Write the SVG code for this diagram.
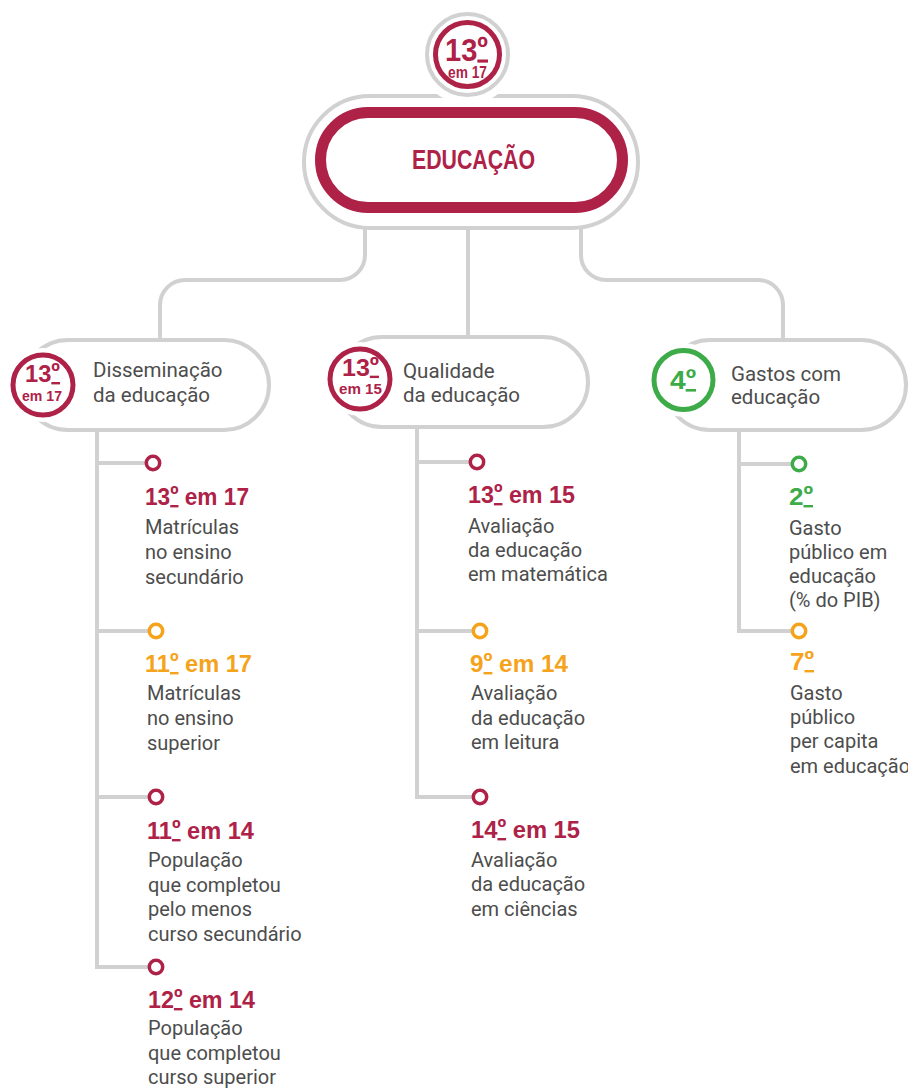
<svg xmlns="http://www.w3.org/2000/svg" width="908" height="1089" viewBox="0 0 908 1089">
<style>
.ln{fill:none;stroke:#d1d1d1;stroke-width:4}
.card{fill:#fff;stroke:#d1d1d1;stroke-width:4}
.mask{fill:#fff}
.dot{fill:#fff;stroke-width:3.5}
.red{fill:#ae2248}
.org{fill:#f5a31a}
.grn{fill:#3dab47}
.sr{stroke:#ae2248}
.so{stroke:#f5a31a}
.sg{stroke:#3dab47}
.u{text-decoration:underline}
.h{font-family:"Liberation Sans",Arial,sans-serif;font-weight:700;font-size:24px}
.d{font-family:Roboto,"Liberation Sans",sans-serif;font-size:20px;fill:#4d4d4d}
.ct{font-family:Roboto,"Liberation Sans",sans-serif;font-size:20.5px;fill:#4d4d4d}
.b{font-family:"Liberation Sans",Arial,sans-serif;font-weight:700;text-anchor:middle}
</style>
<rect width="908" height="1089" fill="#fff"/>
<g id="connectors">
<path class="ln" d="M365 220 V255 A25 25 0 0 1 340 280 H185 A25 25 0 0 0 160 305 V345"/>
<path class="ln" d="M468 220 V345"/>
<path class="ln" d="M581 220 V255 A25 25 0 0 0 606 280 H758 A25 25 0 0 1 783 305 V345"/>
<path class="ln" d="M97 425 V967 H150 M97 463 H148 M97 631 H150 M97 797 H150"/>
<path class="ln" d="M417 425 V797 H474 M417 462 H470 M417 631 H474"/>
<path class="ln" d="M739 425 V631 H793 M739 464 H793"/>
</g>
<g id="educacao">
<rect class="card" x="304" y="96" width="334" height="132" rx="66"/>
<circle class="mask" cx="467.5" cy="54.5" r="50"/>
<circle cx="467.5" cy="54.5" r="40.5" fill="#fff" stroke="#d1d1d1" stroke-width="4"/>
<circle cx="467.5" cy="54.5" r="32" fill="#fff" stroke="#ae2248" stroke-width="5"/>
<text class="b red" x="466.5" y="60.5" font-size="31" textLength="43" lengthAdjust="spacingAndGlyphs">13<tspan class="u" dy="-3">º</tspan></text>
<text class="b red" x="467.5" y="78" font-size="16" textLength="39" lengthAdjust="spacingAndGlyphs">em 17</text>
<rect x="320.5" y="112.5" width="302" height="95" rx="47.5" fill="#fff" stroke="#ae2248" stroke-width="11"/>
<text class="b red" x="473.5" y="168.5" font-size="28" textLength="123" lengthAdjust="spacingAndGlyphs">EDUCAÇÃO</text>
</g>
<g id="disseminacao">
<rect class="card" x="23" y="340" width="246" height="90" rx="45"/>
<circle class="mask" cx="43" cy="385" r="37"/>
<circle cx="43" cy="385" r="30" fill="#fff" stroke="#ae2248" stroke-width="5"/>
<text class="b red" x="42.5" y="382" font-size="24" textLength="35" lengthAdjust="spacingAndGlyphs">13<tspan class="u" dy="-2">º</tspan></text>
<text class="b red" x="42" y="401" font-size="14.5" textLength="40" lengthAdjust="spacingAndGlyphs">em 17</text>
<text class="ct" x="93" y="377">Disseminação</text>
<text class="ct" x="93" y="402">da educação</text>
</g>
<g id="qualidade">
<rect class="card" x="337" y="337" width="251" height="90" rx="45"/>
<circle class="mask" cx="360" cy="379" r="37"/>
<circle cx="360" cy="379" r="30" fill="#fff" stroke="#ae2248" stroke-width="5"/>
<text class="b red" x="360.5" y="375.7" font-size="24" textLength="37" lengthAdjust="spacingAndGlyphs">13<tspan class="u" dy="-2">º</tspan></text>
<text class="b red" x="360.5" y="394" font-size="14.5" textLength="43" lengthAdjust="spacingAndGlyphs">em 15</text>
<text class="ct" x="403" y="378">Qualidade</text>
<text class="ct" x="403" y="402">da educação</text>
</g>
<g id="gastos">
<rect class="card" x="665" y="340" width="241" height="90" rx="45"/>
<circle class="mask" cx="683.5" cy="380" r="37"/>
<circle cx="683.5" cy="380" r="29.5" fill="#fff" stroke="#3dab47" stroke-width="5"/>
<text class="b grn" x="683" y="389" font-size="26" textLength="26" lengthAdjust="spacingAndGlyphs">4<tspan class="u" dy="-2">º</tspan></text>
<text class="ct" x="731" y="381">Gastos com</text>
<text class="ct" x="731" y="404">educação</text>
</g>
<g id="item-matriculas-secundario">
<circle class="dot sr" cx="153" cy="463" r="6.7"/>
<text class="h red" x="145" y="505" textLength="104" lengthAdjust="spacingAndGlyphs">13<tspan class="u" dy="-2">º</tspan><tspan dy="2"> em 17</tspan></text>
<text class="d" x="145" y="534">Matrículas</text>
<text class="d" x="145" y="559">no ensino</text>
<text class="d" x="145" y="584">secundário</text>
</g>
<g id="item-matriculas-superior">
<circle class="dot so" cx="156" cy="631" r="6.7"/>
<text class="h org" x="145" y="672" textLength="107" lengthAdjust="spacingAndGlyphs">11<tspan class="u" dy="-2">º</tspan><tspan dy="2"> em 17</tspan></text>
<text class="d" x="147" y="700">Matrículas</text>
<text class="d" x="147" y="725">no ensino</text>
<text class="d" x="147" y="750">superior</text>
</g>
<g id="item-populacao-secundario">
<circle class="dot sr" cx="156" cy="797" r="6.7"/>
<text class="h red" x="147" y="839" textLength="107" lengthAdjust="spacingAndGlyphs">11<tspan class="u" dy="-2">º</tspan><tspan dy="2"> em 14</tspan></text>
<text class="d" x="148" y="867">População</text>
<text class="d" x="148" y="892">que completou</text>
<text class="d" x="148" y="916">pelo menos</text>
<text class="d" x="148" y="941">curso secundário</text>
</g>
<g id="item-populacao-superior">
<circle class="dot sr" cx="156" cy="967" r="6.7"/>
<text class="h red" x="148" y="1008" textLength="107" lengthAdjust="spacingAndGlyphs">12<tspan class="u" dy="-2">º</tspan><tspan dy="2"> em 14</tspan></text>
<text class="d" x="148" y="1035">População</text>
<text class="d" x="148" y="1060">que completou</text>
<text class="d" x="148" y="1084">curso superior</text>
</g>
<g id="item-matematica">
<circle class="dot sr" cx="477" cy="462" r="6.7"/>
<text class="h red" x="468" y="503" textLength="107" lengthAdjust="spacingAndGlyphs">13<tspan class="u" dy="-2">º</tspan><tspan dy="2"> em 15</tspan></text>
<text class="d" x="468" y="533">Avaliação</text>
<text class="d" x="468" y="557">da educação</text>
<text class="d" x="468" y="581">em matemática</text>
</g>
<g id="item-leitura">
<circle class="dot so" cx="480" cy="631" r="6.7"/>
<text class="h org" x="470" y="672" textLength="98" lengthAdjust="spacingAndGlyphs">9<tspan class="u" dy="-2">º</tspan><tspan dy="2"> em 14</tspan></text>
<text class="d" x="471" y="700">Avaliação</text>
<text class="d" x="471" y="725">da educação</text>
<text class="d" x="471" y="749">em leitura</text>
</g>
<g id="item-ciencias">
<circle class="dot sr" cx="480" cy="797" r="6.7"/>
<text class="h red" x="471" y="838" textLength="109" lengthAdjust="spacingAndGlyphs">14<tspan class="u" dy="-2">º</tspan><tspan dy="2"> em 15</tspan></text>
<text class="d" x="471" y="867">Avaliação</text>
<text class="d" x="471" y="891">da educação</text>
<text class="d" x="471" y="916">em ciências</text>
</g>
<g id="item-gasto-pib">
<circle class="dot sg" cx="799" cy="464" r="6.7"/>
<text class="h grn" x="789" y="505" textLength="24" lengthAdjust="spacingAndGlyphs">2<tspan class="u" dy="-2">º</tspan></text>
<text class="d" x="789" y="535">Gasto</text>
<text class="d" x="789" y="559">público em</text>
<text class="d" x="789" y="583">educação</text>
<text class="d" x="789" y="607">(% do PIB)</text>
</g>
<g id="item-gasto-capita">
<circle class="dot so" cx="799" cy="631" r="6.7"/>
<text class="h org" x="790" y="670" textLength="24" lengthAdjust="spacingAndGlyphs">7<tspan class="u" dy="-2">º</tspan></text>
<text class="d" x="790" y="700">Gasto</text>
<text class="d" x="790" y="724">público</text>
<text class="d" x="790" y="748">per capita</text>
<text class="d" x="790" y="773">em educação</text>
</g>
</svg>
